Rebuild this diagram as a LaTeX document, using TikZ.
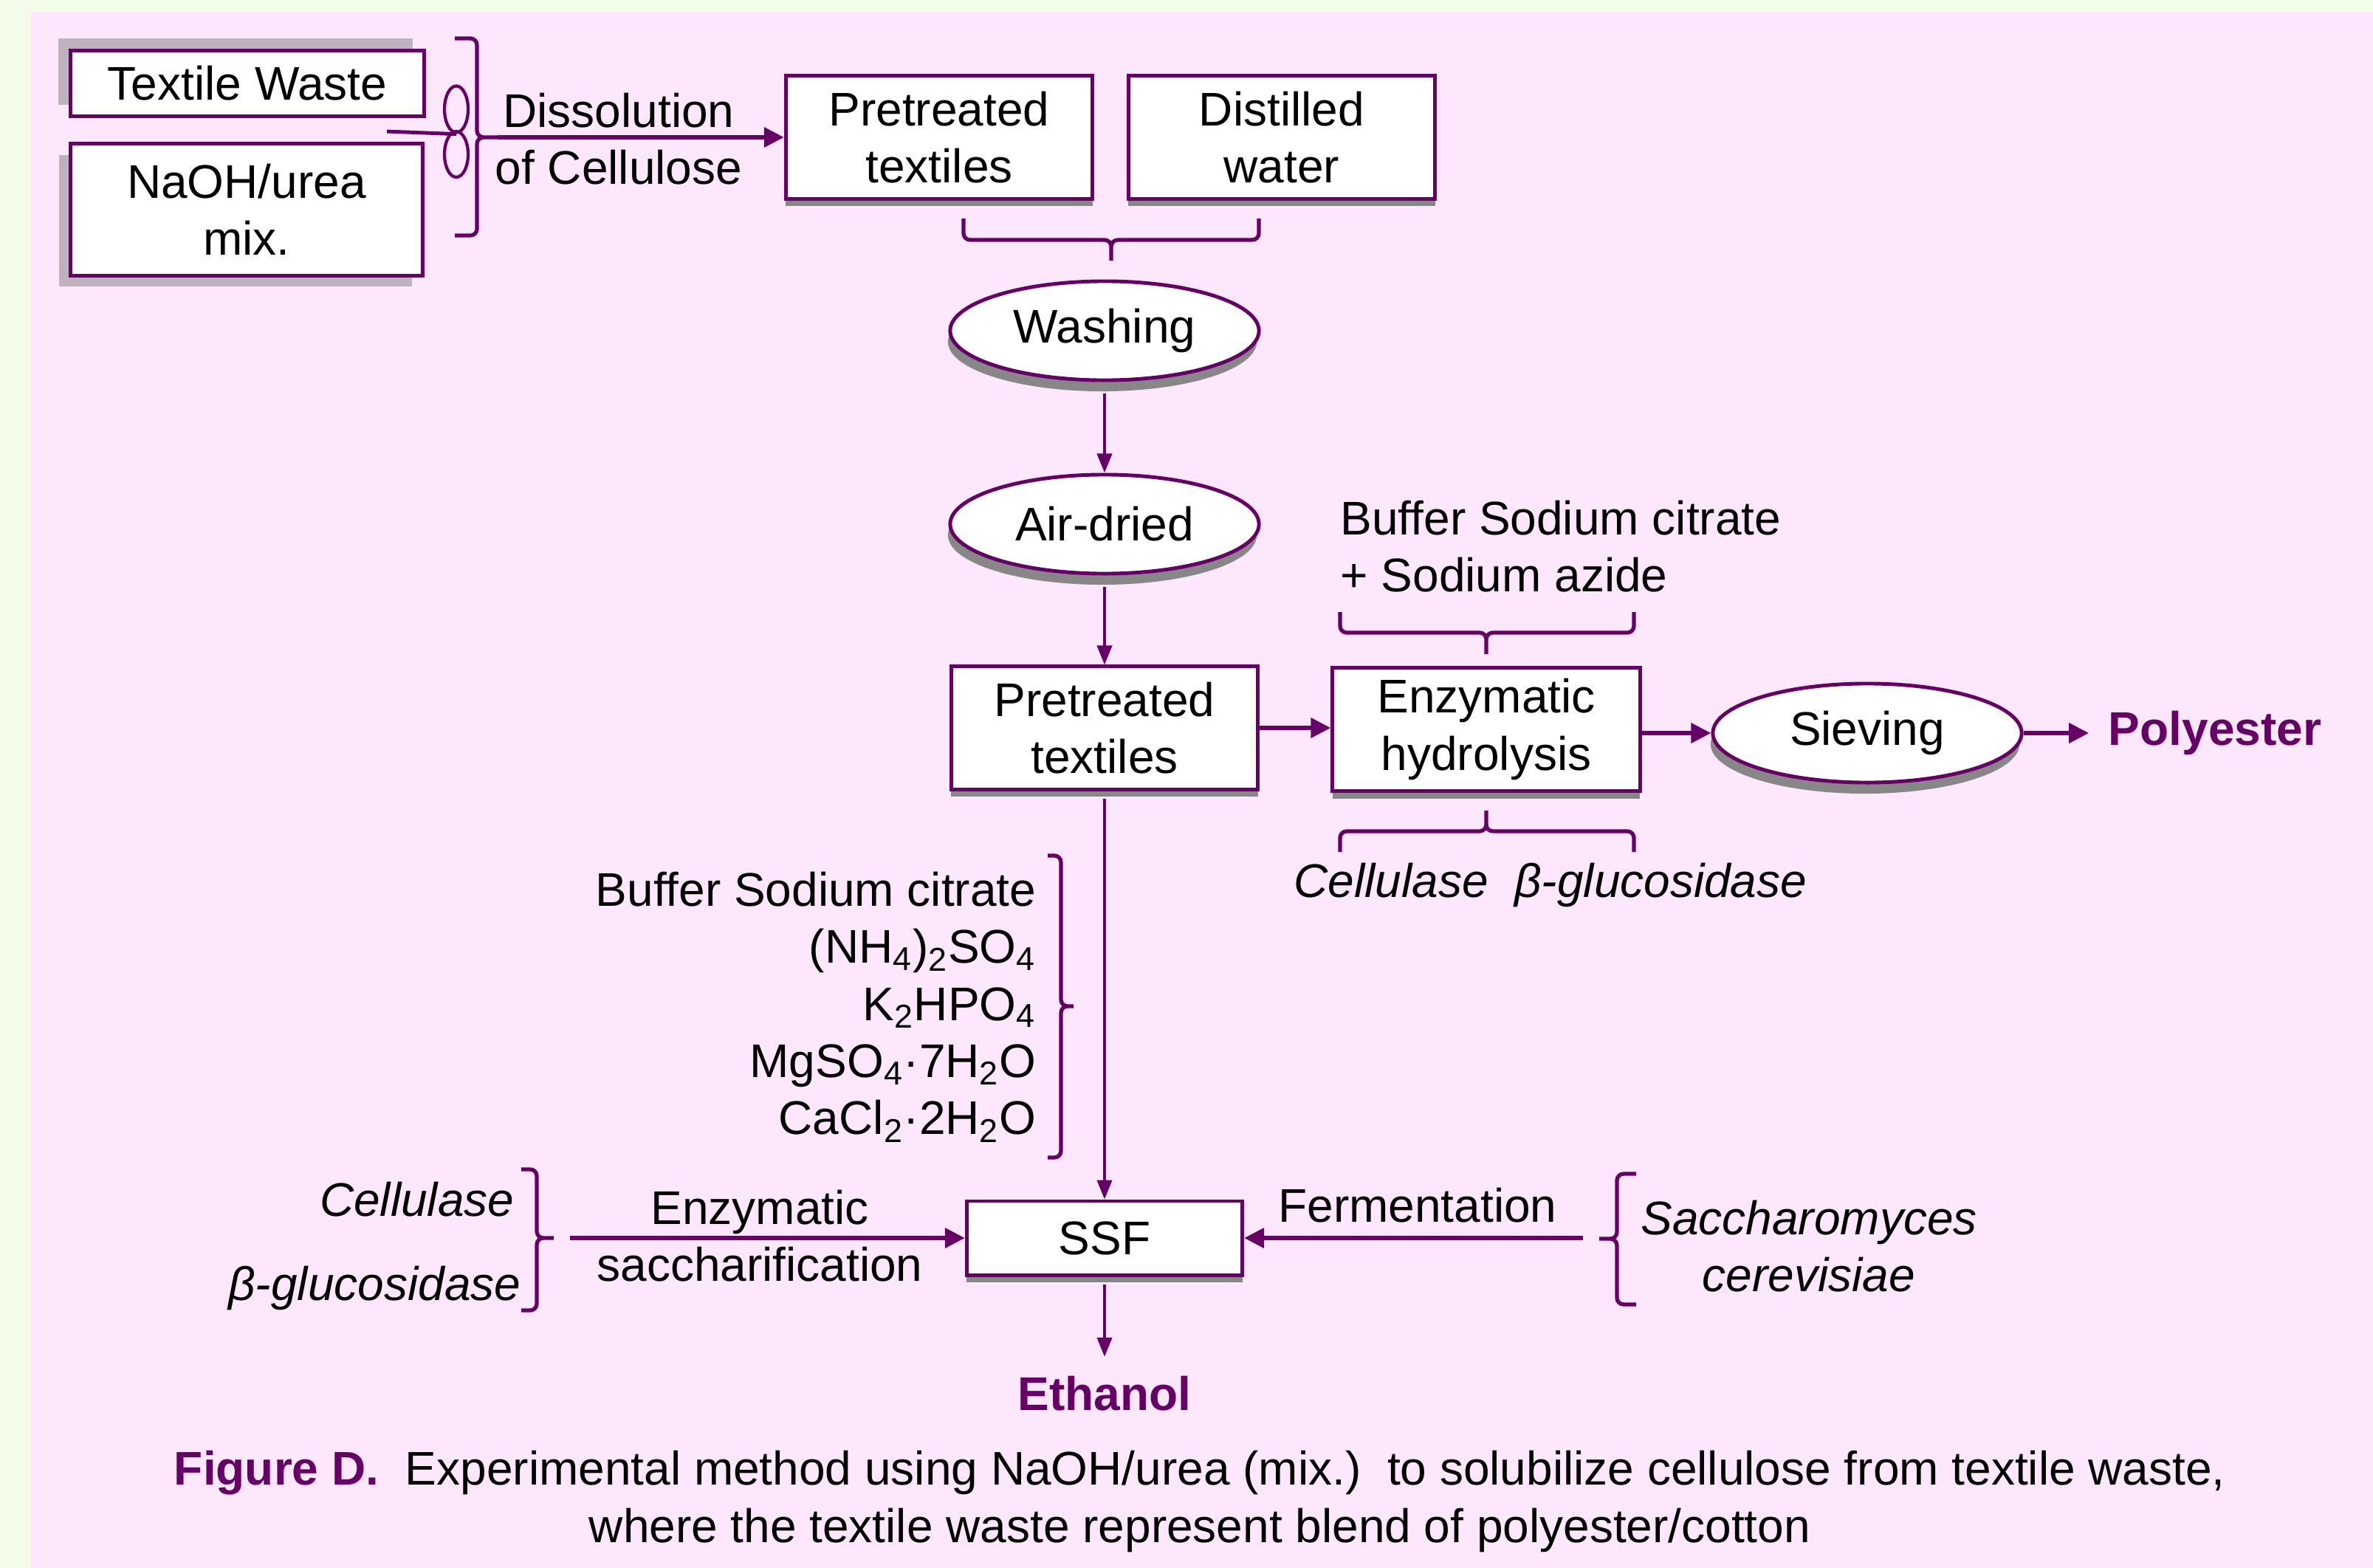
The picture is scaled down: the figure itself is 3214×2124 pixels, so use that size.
\documentclass[tikz,border=0pt]{standalone}
\usepackage{fontspec}
\setmainfont{Liberation Sans}
\usetikzlibrary{arrows.meta,positioning,shapes.geometric,shadows}
\definecolor{plum}{HTML}{660066}
\definecolor{pinkbg}{HTML}{FCE7FC}
\definecolor{greenbg}{HTML}{F2FCE8}
\definecolor{shadegray}{HTML}{878787}
\definecolor{shadelilac}{HTML}{BDB2BE}
\tikzset{>=Latex,
  every node/.style={font=\fontsize{18.2}{22}\selectfont,inner sep=0pt},
  stepbox/.style={rectangle,draw=plum,fill=white,line width=1.4pt,align=center,
    minimum width=4.15cm,minimum height=1.66cm},
  bottomshade/.style={drop shadow={shadow xshift=0pt,shadow yshift=-.1cm,fill=shadegray,opacity=1}},
  ovalbox/.style={ellipse,draw=plum,fill=white,line width=1.4pt,
    minimum width=4.18cm,minimum height=1.34cm,
    drop shadow={shadow xshift=-.03cm,shadow yshift=-.15cm,fill=shadegray,opacity=1}},
  thinflow/.style={draw=plum,line width=1.1pt,-{Triangle[length=.26cm,width=.2cm]}},
  thickflow/.style={draw=plum,line width=1.8pt,-{Triangle[length=.27cm,width=.26cm]}},
  curly/.style={draw=plum,line width=1.5pt,rounded corners=.09cm},
  species/.style={font=\fontsize{18.2}{22}\selectfont\itshape},
  product/.style={text=plum,inner sep=.26cm,font=\fontsize{18.2}{22}\selectfont\bfseries}}

\begin{document}
\begin{tikzpicture}[x=.01cm,y=-.01cm]
\fill[greenbg] (0,0) rectangle (3214,2124);
\fill[pinkbg] (42,16) rectangle (3214,2124);
\useasboundingbox (0,0) rectangle (3214,2124);
% raw materials
\node[stepbox,minimum width=4.79cm,minimum height=.89cm,
  drop shadow={shadow xshift=-.16cm,shadow yshift=.16cm,fill=shadelilac,opacity=1}] (waste) at (335,113) {Textile Waste};
\node[stepbox,minimum width=4.77cm,minimum height=1.78cm,
  drop shadow={shadow xshift=-.15cm,shadow yshift=-.15cm,fill=shadelilac,opacity=1}] (naoh) at (334,284) {NaOH/urea\\mix.};
\coordinate (mixin) at (524,178);
\node[ellipse,draw=plum,line width=1.2pt,minimum width=.32cm,minimum height=.63cm] (loopA) at (618,148) {};
\node[ellipse,draw=plum,line width=1.2pt,minimum width=.32cm,minimum height=.62cm] (loopB) at (618,209) {};
\draw[plum,line width=1.4pt] (mixin) -- (loopA.south);
\draw[curly] (616,52) -| (646,186) -- (674,186) (616,319) -| (646,186) -- (674,186);
\coordinate (dissolve) at (674,186);
\node[align=center] (dissol) at (838,188) {Dissolution\\of Cellulose};
% pretreatment
\node[stepbox,bottomshade] (pre1) at (1272,186) {Pretreated\\textiles};
\node[stepbox,bottomshade] (water) at (1736,186) {Distilled\\water};
\draw[thickflow] (dissolve) -- (pre1.west);
\draw[curly] (1305,296) |- (1505,325) -- (1505,353) (1705,296) |- (1505,325) -- (1505,353);
\node[ovalbox] (wash) at (1496,448) {Washing};
\node[ovalbox] (air) at (1496,710) {Air-dried};
\node[stepbox,bottomshade] (pre2) at (1496,986) {Pretreated\\textiles};
\draw[thinflow] ([yshift=-.15cm]wash.south) -- (air.north);
\draw[thinflow] ([yshift=-.15cm]air.south) -- (pre2.north);
% hydrolysis branch
\node[stepbox,bottomshade,minimum width=4.16cm,minimum height=1.67cm] (hydro) at (2013,988) {Enzymatic\\hydrolysis};
\node[ovalbox] (sieve) at (2529,993) {Sieving};
\node[product,anchor=center] (poly) at (3000,993) {Polyester};
\draw[thickflow] (pre2.east) -- (pre2.east -| hydro.west);
\draw[thickflow] (sieve.west -| hydro.east) -- (sieve.west);
\draw[thickflow] (sieve.east) -- (poly.west);
\node[align=left,anchor=west] (bufftop) at (1815,740) {Buffer Sodium citrate\\+ Sodium azide};
\draw[curly] (1815,829) |- (2013,857) -- (2013,886) (2213,829) |- (2013,857) -- (2013,886);
\draw[curly] (1815,1154) |- (2013,1126) -- (2013,1098) (2213,1154) |- (2013,1126) -- (2013,1098);
\node[species] (enzymes) at (2100,1199) {Cellulase\ \ β-glucosidase};
% SSF
\node[stepbox,bottomshade,minimum width=3.73cm,minimum height=1cm] (ssf) at (1496,1677) {SSF};
\draw[thinflow] ([yshift=-.1cm]pre2.south) -- (ssf.north);
\node[align=right,anchor=east] (medium) at (1404,1364) {Buffer Sodium citrate\\(NH\textsubscript{4})\textsubscript{2}SO\textsubscript{4}\\K\textsubscript{2}HPO\textsubscript{4}\\MgSO\textsubscript{4}·7H\textsubscript{2}O\\CaCl\textsubscript{2}·2H\textsubscript{2}O};
\draw[curly] (1419,1159) -| (1437,1363) -- (1454,1363) (1419,1568) -| (1437,1363) -- (1454,1363);
\node[species,anchor=east] (cellu) at (697,1625) {Cellulase};
\node[species,anchor=east] (gluco) at (706,1745) {β-glucosidase};
\draw[curly] (706,1584) -| (727,1677) -- (750,1677) (706,1775) -| (727,1677) -- (750,1677);
\coordinate (sacchin) at (772,1677);
\node[align=center] (sacch) at (1029,1674) {Enzymatic\\saccharification};
\draw[thickflow] (sacchin) -- (ssf.west);
\node (ferm) at (1920,1633) {Fermentation};
\node[species,align=center] (yeast) at (2450,1688) {Saccharomyces\\cerevisiae};
\draw[curly] (2216,1590) -| (2190,1678) -- (2166,1678) (2216,1767) -| (2190,1678) -- (2166,1678);
\coordinate (fermin) at (2144,1677);
\draw[thickflow] (fermin) -- (ssf.east);
\node[product] (ethanol) at (1496,1888) {Ethanol};
\draw[thinflow] ([yshift=-.1cm]ssf.south) -- (ethanol.north);
% caption
\node[align=center] (caption) at (1625,2034) {\textcolor{plum}{\bfseries Figure D.}\ \ Experimental method using NaOH/urea (mix.)\ \ to solubilize cellulose from textile waste,\\where the textile waste represent blend of polyester/cotton};
\end{tikzpicture}
\end{document}
